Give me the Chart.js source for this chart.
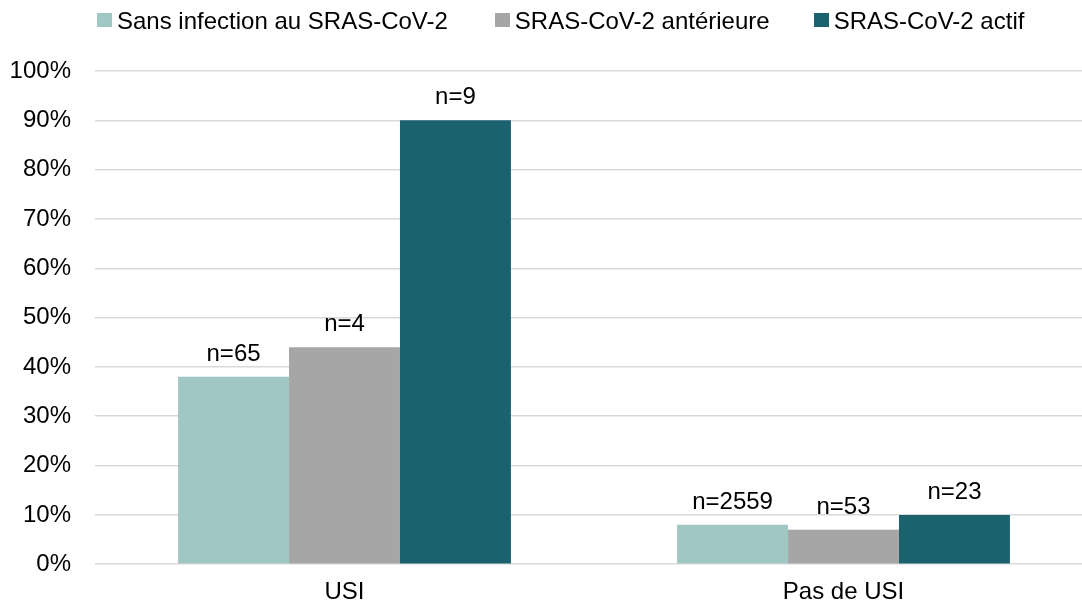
<!DOCTYPE html>
<html>
<head>
<meta charset="utf-8">
<script src="https://cdn.jsdelivr.net/npm/chart.js"></script>
<style>
  html, body { margin: 0; padding: 0; background: #fff; overflow: hidden; }
  body { width: 1082px; height: 606px; position: relative; }
  #wrap { position: absolute; left: 0; top: 0; width: 1094px; height: 621px; }
  #legend {
    position: absolute; left: 97px; top: 7px; display: flex; white-space: nowrap;
    font: 24px "Liberation Sans", Arial, sans-serif; line-height: 28px; color: #000;
  }
  #legend .item { display: flex; align-items: center; }
  #legend .box { width: 15px; height: 14px; margin-right: 5px; position: relative; top: -1px; }
</style>
</head>
<body>
<div id="wrap"><canvas id="chart" width="1094" height="621"></canvas></div>
<div id="legend"></div>

<script>
  const categories = ['USI', 'Pas de USI'];
  const seriesNames = ['Sans infection au SRAS-CoV-2', 'SRAS-CoV-2 antérieure', 'SRAS-CoV-2 actif'];
  const sansInfection = [38, 8];
  const anterieure = [44, 7];
  const actif = [90, 10];
  const counts = [
    ['n=65', 'n=2559'],
    ['n=4', 'n=53'],
    ['n=9', 'n=23']
  ];
  const colors = ['#a1c7c4', '#a6a6a6', '#1b616e'];

  const FONT = '"Liberation Sans", Arial, sans-serif';

  // n= labels over each bar
  const countLabels = {
    id: 'countLabels',
    afterDatasetsDraw(chart) {
      const ctx = chart.ctx;
      ctx.save();
      ctx.font = '24px ' + FONT;
      ctx.fillStyle = '#000';
      ctx.textAlign = 'center';
      ctx.textBaseline = 'alphabetic';
      chart.data.datasets.forEach((ds, i) => {
        chart.getDatasetMeta(i).data.forEach((bar, j) => {
          ctx.fillText(counts[i][j], bar.x, bar.y - 16);
        });
      });
      ctx.restore();
    }
  };

  const chart = new Chart(document.getElementById('chart'), {
    type: 'bar',
    data: {
      labels: categories,
      datasets: [sansInfection, anterieure, actif].map((d, i) => ({
        label: seriesNames[i],
        data: d,
        backgroundColor: colors[i],
        borderWidth: 0
      }))
    },
    options: {
      responsive: false,
      animation: false,
      devicePixelRatio: 1,
      layout: { padding: { top: 71, right: 1, bottom: 0, left: 0 } },
      datasets: { bar: { categoryPercentage: 0.667, barPercentage: 1 } },
      plugins: { legend: { display: false }, tooltip: { enabled: false } },
      scales: {
        x: {
          grid: { display: false, drawTicks: false },
          border: { display: false },
          ticks: { color: '#000', font: { size: 24, family: FONT }, padding: 14 }
        },
        y: {
          min: 0, max: 100,
          afterFit: s => { s.width = 95; },
          grid: { color: '#d9d9d9', lineWidth: 1.5, drawTicks: false },
          border: { display: false },
          ticks: {
            stepSize: 10, color: '#000', padding: 24,
            font: { size: 24, family: FONT },
            callback: v => v + '%'
          }
        }
      }
    },
    plugins: [countLabels]
  });

  // legend as html text
  const legend = document.getElementById('legend');
  const gaps = [47, 44, 0];
  chart.data.datasets.forEach((ds, i) => {
    const item = document.createElement('span');
    item.className = 'item';
    item.style.marginRight = gaps[i] + 'px';
    const box = document.createElement('span');
    box.className = 'box';
    box.style.background = ds.backgroundColor;
    item.appendChild(box);
    item.appendChild(document.createTextNode(ds.label));
    legend.appendChild(item);
  });
</script>
</body>
</html>
